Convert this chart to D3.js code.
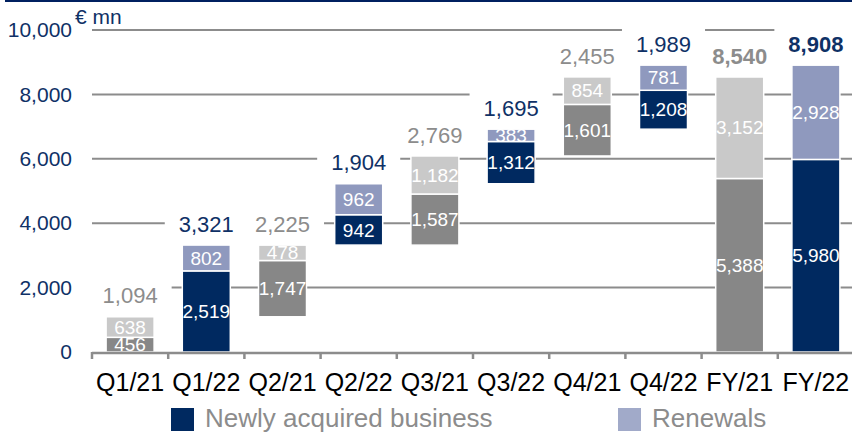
<!DOCTYPE html>
<html>
<head>
<meta charset="utf-8">
<script src="https://cdn.jsdelivr.net/npm/d3@7"></script>
<style>
    body { margin: 0; background: #fff; }
    text { font-family: Arial, "Liberation Sans", sans-serif; }
</style>
</head>
<body>
<div id="chart"></div>
<script>
let width = 852;
let height = 433;

let categories = ["Q1/21", "Q1/22", "Q2/21", "Q2/22", "Q3/21", "Q3/22", "Q4/21", "Q4/22", "FY/21", "FY/22"];
let years = ["2021", "2022", "2021", "2022", "2021", "2022", "2021", "2022", "2021", "2022"];
let newBusiness = [456, 2519, 1747, 942, 1587, 1312, 1601, 1208, 5388, 5980];
let renewals = [638, 802, 478, 962, 1182, 383, 854, 781, 3152, 2928];
let totals = [1094, 3321, 2225, 1904, 2769, 1695, 2455, 1989, 8540, 8908];
let yTicks = [0, 2000, 4000, 6000, 8000, 10000];
let legendLabels = ["Newly acquired business", "Renewals"];

let colors = {
    "2021": ["#878787", "#c9c9c9"],
    "2022": ["#002960", "#8f99be"]
};
let navy = "#0f3166";
let grey = "#8c8c8c";

let svg = d3.select("#chart")
    .append("svg")
    .attr("width", width)
    .attr("height", height);

// thin navy rule along the top
svg.append("rect")
    .attr("x", 5).attr("y", 0)
    .attr("width", width - 5).attr("height", 2)
    .attr("fill", "#002060");

let x = d3.scaleBand()
    .domain(categories)
    .range([92, 854])
    .paddingInner(0.37)
    .paddingOuter(0.185);

let y = d3.scaleLinear()
    .domain([0, 10000])
    .range([352, 30]);

// quarters stack on the running total of their year, FY bars start at zero
let running = {};
let bases = categories.map((c, i) => {
    if (c.startsWith("FY")) return 0;
    let b = running[years[i]] || 0;
    running[years[i]] = b + newBusiness[i] + renewals[i];
    return b;
});

// gridlines
yTicks.filter(t => t > 0).forEach(t => {
    svg.append("line")
        .attr("x1", 92).attr("x2", width)
        .attr("y1", y(t)).attr("y2", y(t))
        .attr("stroke", grey)
        .attr("stroke-width", 2);
});

// y axis labels
let yAxis = d3.axisLeft(y)
    .tickValues(yTicks)
    .tickSize(0)
    .tickPadding(20)
    .tickFormat(d3.format(","));

let yG = svg.append("g")
    .attr("transform", "translate(92,0)")
    .call(yAxis);
yG.select(".domain").remove();
yG.selectAll("text")
    .attr("fill", navy)
    .style("font-size", "21px");

svg.append("text")
    .attr("x", 75).attr("y", 24)
    .attr("fill", navy)
    .style("font-size", "21px")
    .text("€ mn");

// total labels, with a white box that breaks the gridlines
let totalLabels = svg.append("g");
categories.forEach((c, i) => {
    let top = y(bases[i] + newBusiness[i] + renewals[i]);
    let t = totalLabels.append("text")
        .attr("x", x(c) + x.bandwidth() / 2)
        .attr("y", top - 21)
        .attr("dy", "0.35em")
        .attr("text-anchor", "middle")
        .attr("fill", years[i] == "2021" ? grey : navy)
        .style("font-size", "22px")
        .style("font-weight", c.startsWith("FY") ? "bold" : "normal")
        .text(d3.format(",")(totals[i]));
    let box = t.node().getBBox();
    totalLabels.insert("rect", "text")
        .attr("x", box.x - 14)
        .attr("y", box.y - 4)
        .attr("width", box.width + 28)
        .attr("height", box.height + 8)
        .attr("fill", "#fff");
});

// bars
categories.forEach((c, i) => {
    let segs = [
        { v0: bases[i], v1: bases[i] + newBusiness[i], val: newBusiness[i], color: colors[years[i]][0] },
        { v0: bases[i] + newBusiness[i], v1: bases[i] + newBusiness[i] + renewals[i], val: renewals[i], color: colors[years[i]][1] }
    ];
    segs.forEach(s => {
        svg.append("rect")
            .attr("x", x(c))
            .attr("y", y(s.v1))
            .attr("width", x.bandwidth())
            .attr("height", y(s.v0) - y(s.v1))
            .attr("fill", s.color)
            .attr("stroke", "#fff")
            .attr("stroke-width", 1.5);
    });
    segs.forEach(s => {
        svg.append("text")
            .attr("x", x(c) + x.bandwidth() / 2)
            .attr("y", (y(s.v0) + y(s.v1)) / 2)
            .attr("dy", "0.35em")
            .attr("text-anchor", "middle")
            .attr("fill", "#fff")
            .style("font-size", "19px")
            .text(d3.format(",")(s.val));
    });
});

// x axis
svg.append("line")
    .attr("x1", 92).attr("x2", width)
    .attr("y1", 353).attr("y2", 353)
    .attr("stroke", grey)
    .attr("stroke-width", 2.5);

let gap = (x.step() - x.bandwidth()) / 2;
categories.concat([null]).forEach((c, i) => {
    let bx = c ? x(c) - gap : x(categories[i - 1]) + x.bandwidth() + gap;
    svg.append("line")
        .attr("x1", bx).attr("x2", bx)
        .attr("y1", 352).attr("y2", 359)
        .attr("stroke", grey)
        .attr("stroke-width", 2.5);
});

let xAxis = d3.axisBottom(x)
    .tickSize(0)
    .tickPadding(21);

let xG = svg.append("g")
    .attr("transform", "translate(0,352)")
    .call(xAxis);
xG.select(".domain").remove();
xG.selectAll("text")
    .attr("fill", "#000")
    .style("font-size", "25px");

// legend
let legendX = [171, 618];
let legendColors = ["#002960", "#a1aac9"];
legendLabels.forEach((l, i) => {
    svg.append("rect")
        .attr("x", legendX[i]).attr("y", 408)
        .attr("width", 23).attr("height", 23)
        .attr("fill", legendColors[i]);
    svg.append("text")
        .attr("x", legendX[i] + 34).attr("y", 427)
        .attr("fill", grey)
        .style("font-size", "26px")
        .text(l);
});
</script>
</body>
</html>
